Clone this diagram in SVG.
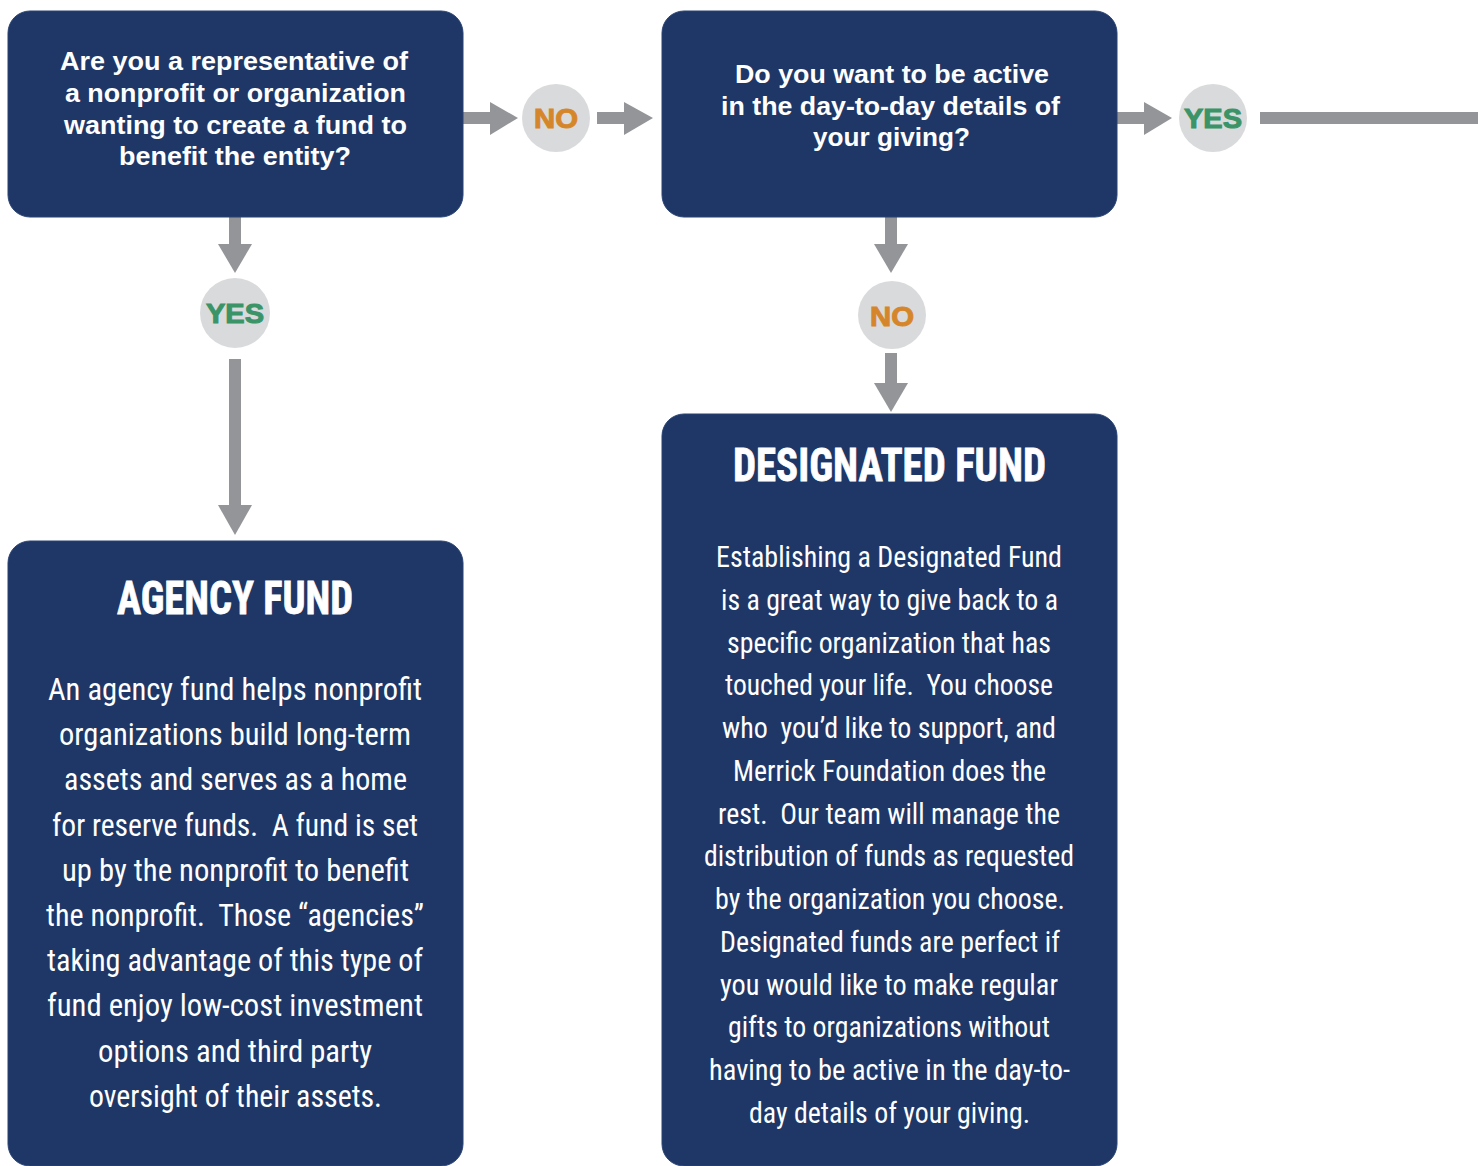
<svg xmlns="http://www.w3.org/2000/svg" width="1478" height="1166" viewBox="0 0 1478 1166">
<style>
.box{fill:#1e3767;stroke:#2a4372;stroke-width:1}
.q{font-family:"Liberation Sans",Arial,sans-serif;font-weight:bold;font-size:26.5px;fill:#ffffff;text-anchor:middle}
.t{font-family:"Liberation Sans Narrow","Roboto Condensed","DejaVu Sans Condensed",sans-serif;font-weight:bold;font-size:47px;fill:#ffffff;stroke:#ffffff;stroke-width:0.8;text-anchor:middle}
.b{font-family:"Roboto Condensed","Liberation Sans Narrow",Roboto,sans-serif;font-size:31px;fill:#ffffff;text-anchor:middle}
.b2{font-family:"Roboto Condensed","Liberation Sans Narrow",Roboto,sans-serif;font-size:29px;fill:#ffffff;text-anchor:middle}
.arr{fill:#939598}
.lbl{fill:#d9dadb}
.no{font-family:"Liberation Sans",Arial,sans-serif;font-weight:bold;font-size:27px;fill:#d6862a;stroke:#d6862a;stroke-width:1;text-anchor:middle}
.yes{font-family:"Liberation Sans",Arial,sans-serif;font-weight:bold;font-size:27px;fill:#3a9467;stroke:#3a9467;stroke-width:1;text-anchor:middle}
</style>
<rect width="1478" height="1166" fill="#ffffff"/>
<g id="connectors">
  <rect class="arr" x="463" y="112" width="29" height="12"/>
  <polygon class="arr" points="490,102 518,118 490,135"/>
  <rect class="arr" x="597" y="112" width="29" height="12"/>
  <polygon class="arr" points="624,102 653,118 624,135"/>
  <rect class="arr" x="1117" y="112" width="29" height="12"/>
  <polygon class="arr" points="1144,102 1172,118 1144,135"/>
  <rect class="arr" x="1260" y="112" width="218" height="12"/>
  <rect class="arr" x="229" y="217" width="12" height="28"/>
  <polygon class="arr" points="218,244 252,244 235,273"/>
  <rect class="arr" x="229" y="359" width="12" height="148"/>
  <polygon class="arr" points="218,505 252,505 235,535"/>
  <rect class="arr" x="885" y="217" width="12" height="28"/>
  <polygon class="arr" points="874,244 908,244 891,273"/>
  <rect class="arr" x="885" y="353" width="12" height="32"/>
  <polygon class="arr" points="874,383 908,383 891,412"/>
</g>
<g id="label-no-1"><circle class="lbl" cx="556" cy="118" r="34"/><text class="no" x="556" y="128" textLength="44" lengthAdjust="spacingAndGlyphs">NO</text></g>
<g id="label-yes-1"><circle class="lbl" cx="1213" cy="118" r="34"/><text class="yes" x="1213" y="128" textLength="58" lengthAdjust="spacingAndGlyphs">YES</text></g>
<g id="label-yes-2"><circle class="lbl" cx="235" cy="313" r="35"/><text class="yes" x="235" y="323" textLength="58" lengthAdjust="spacingAndGlyphs">YES</text></g>
<g id="label-no-2"><circle class="lbl" cx="892" cy="315" r="34"/><text class="no" x="892" y="326" textLength="44" lengthAdjust="spacingAndGlyphs">NO</text></g>
<g id="q1">
  <rect class="box" x="8" y="11" width="455" height="206" rx="22"/>
  <text class="q" x="234" y="70" textLength="348" lengthAdjust="spacingAndGlyphs">Are you a representative of</text>
  <text class="q" x="235.5" y="102" textLength="341" lengthAdjust="spacingAndGlyphs">a nonprofit or organization</text>
  <text class="q" x="235.5" y="134" textLength="343" lengthAdjust="spacingAndGlyphs">wanting to create a fund to</text>
  <text class="q" x="235" y="165" textLength="232" lengthAdjust="spacingAndGlyphs">benefit the entity?</text>
</g>
<g id="q2">
  <rect class="box" x="662" y="11" width="455" height="206" rx="22"/>
  <text class="q" x="892" y="83" textLength="314" lengthAdjust="spacingAndGlyphs">Do you want to be active</text>
  <text class="q" x="890.5" y="115" textLength="339" lengthAdjust="spacingAndGlyphs">in the day-to-day details of</text>
  <text class="q" x="891.5" y="146" textLength="157" lengthAdjust="spacingAndGlyphs">your giving?</text>
</g>
<g id="agency-fund">
  <rect class="box" x="8" y="541" width="455" height="625" rx="22"/>
  <text class="t" x="235" y="614" textLength="236" lengthAdjust="spacingAndGlyphs">AGENCY FUND</text>
  <text class="b" x="235" y="700" textLength="374" lengthAdjust="spacingAndGlyphs">An agency fund helps nonprofit</text>
  <text class="b" x="235" y="745" textLength="352" lengthAdjust="spacingAndGlyphs">organizations build long-term</text>
  <text class="b" x="235.5" y="790" textLength="343" lengthAdjust="spacingAndGlyphs">assets and serves as a home</text>
  <text class="b" x="235" y="836" textLength="366" lengthAdjust="spacingAndGlyphs" xml:space="preserve">for reserve funds.  A fund is set</text>
  <text class="b" x="235.5" y="881" textLength="347" lengthAdjust="spacingAndGlyphs">up by the nonprofit to benefit</text>
  <text class="b" x="235" y="926" textLength="378" lengthAdjust="spacingAndGlyphs" xml:space="preserve">the nonprofit.  Those “agencies”</text>
  <text class="b" x="235" y="971" textLength="376" lengthAdjust="spacingAndGlyphs">taking advantage of this type of</text>
  <text class="b" x="235" y="1016" textLength="376" lengthAdjust="spacingAndGlyphs">fund enjoy low-cost investment</text>
  <text class="b" x="235" y="1062" textLength="274" lengthAdjust="spacingAndGlyphs">options and third party</text>
  <text class="b" x="235.5" y="1107" textLength="293" lengthAdjust="spacingAndGlyphs">oversight of their assets.</text>
</g>
<g id="designated-fund">
  <rect class="box" x="662" y="414" width="455" height="752" rx="22"/>
  <text class="t" x="889.5" y="481" textLength="313" lengthAdjust="spacingAndGlyphs">DESIGNATED FUND</text>
  <text class="b2" x="889" y="567" textLength="346" lengthAdjust="spacingAndGlyphs">Establishing a Designated Fund</text>
  <text class="b2" x="889.5" y="610" textLength="337" lengthAdjust="spacingAndGlyphs">is a great way to give back to a</text>
  <text class="b2" x="889" y="653" textLength="324" lengthAdjust="spacingAndGlyphs">specific organization that has</text>
  <text class="b2" x="889" y="695" textLength="328" lengthAdjust="spacingAndGlyphs" xml:space="preserve">touched your life.  You choose</text>
  <text class="b2" x="889" y="738" textLength="334" lengthAdjust="spacingAndGlyphs" xml:space="preserve">who  you’d like to support, and</text>
  <text class="b2" x="889.5" y="781" textLength="313" lengthAdjust="spacingAndGlyphs">Merrick Foundation does the</text>
  <text class="b2" x="889" y="824" textLength="342" lengthAdjust="spacingAndGlyphs" xml:space="preserve">rest.  Our team will manage the</text>
  <text class="b2" x="889" y="866" textLength="370" lengthAdjust="spacingAndGlyphs">distribution of funds as requested</text>
  <text class="b2" x="890" y="909" textLength="350" lengthAdjust="spacingAndGlyphs">by the organization you choose.</text>
  <text class="b2" x="890" y="952" textLength="340" lengthAdjust="spacingAndGlyphs">Designated funds are perfect if</text>
  <text class="b2" x="889" y="995" textLength="338" lengthAdjust="spacingAndGlyphs">you would like to make regular</text>
  <text class="b2" x="889" y="1037" textLength="322" lengthAdjust="spacingAndGlyphs">gifts to organizations without</text>
  <text class="b2" x="889.5" y="1080" textLength="361" lengthAdjust="spacingAndGlyphs">having to be active in the day-to-</text>
  <text class="b2" x="889.5" y="1123" textLength="281" lengthAdjust="spacingAndGlyphs">day details of your giving.</text>
</g>
</svg>
